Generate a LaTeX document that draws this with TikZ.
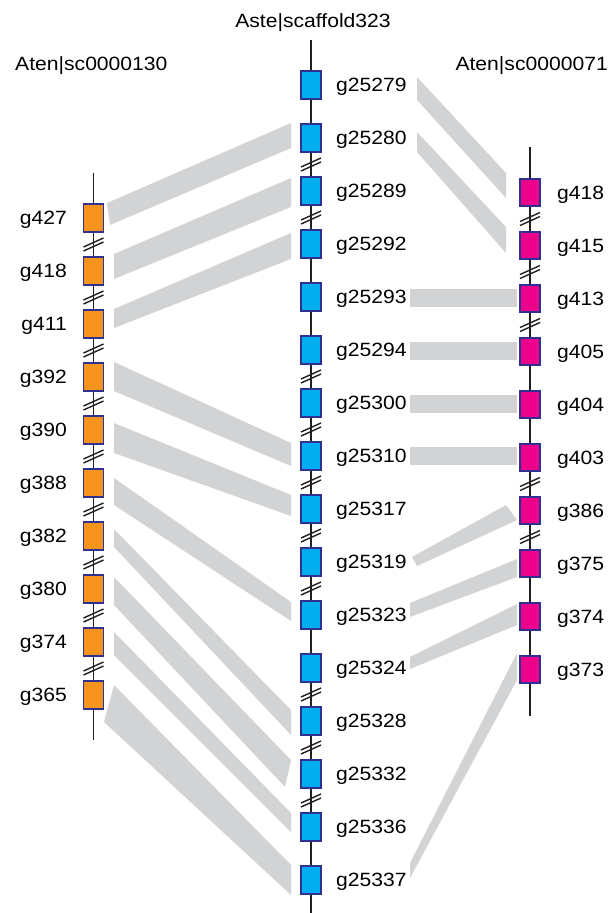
\documentclass[tikz,border=0pt]{standalone}
\usepackage{fontspec}
\setmainfont{Liberation Sans}[FakeStretch=1.1]
\definecolor{orng}{HTML}{F7941D}
\definecolor{cyanb}{HTML}{00AEEF}
\definecolor{mag}{HTML}{EC008C}
\definecolor{bord}{HTML}{2E3192}
\definecolor{bandc}{HTML}{D1D3D4}
\definecolor{axisc}{HTML}{231F20}
\begin{document}
\begin{tikzpicture}[x=1pt,y=-1pt,
  gene/.style={draw=bord, line width=1.8pt, minimum width=20pt, minimum height=27.5pt, inner sep=0pt},
  lab/.style={font=\fontsize{19.2}{20}\selectfont, inner sep=0pt, text=black},
  axisline/.style={draw=axisc, line width=1.7pt},
  brk/.style={draw=axisc, line width=1.4pt},
  bandfill/.style={fill=bandc}]
\useasboundingbox (0,0) rectangle (612,913);

% ---- bands left -> middle
\fill[bandfill] (107,203) -- (291,123) -- (291,148) -- (110,225) -- cycle;
\fill[bandfill] (114,254) -- (291,178) -- (291,207) -- (114,279) -- cycle;
\fill[bandfill] (114,309) -- (291,233) -- (291,259) -- (114,328) -- cycle;
\fill[bandfill] (114,362) -- (291,443) -- (291,466) -- (114,391) -- cycle;
\fill[bandfill] (114,423) -- (291,495) -- (291,516) -- (114,453) -- cycle;
\fill[bandfill] (114,478) -- (291,602) -- (291,621) -- (114,505) -- cycle;
\fill[bandfill] (114,529) -- (291,710) -- (291,735) -- (114,547) -- cycle;
\fill[bandfill] (114,577) -- (291,760) -- (285,787) -- (114,605) -- cycle;
\fill[bandfill] (114,632) -- (291,813) -- (291,832) -- (114,655) -- cycle;
\fill[bandfill] (114,685) -- (291,865) -- (291,895) -- (104,722) -- cycle;

% ---- bands middle -> right
\fill[bandfill] (417,77) -- (506,173) -- (506,198) -- (417,100) -- cycle;
\fill[bandfill] (417,132) -- (506,227) -- (506,253) -- (417,152) -- cycle;
\fill[bandfill] (410,289) rectangle (517,307);
\fill[bandfill] (410,342) rectangle (517,360);
\fill[bandfill] (410,395) rectangle (517,413);
\fill[bandfill] (410,447) rectangle (517,465);
\fill[bandfill] (412,557) -- (506,505) -- (517,520) -- (417,566) -- cycle;
\fill[bandfill] (410,603) -- (517,559) -- (517,577) -- (410,617) -- cycle;
\fill[bandfill] (410,657) -- (517,604) -- (517,625) -- (410,669) -- cycle;
\fill[bandfill] (410,863) -- (517,653) -- (517,680) -- (410,878) -- cycle;

% ---- axes
\coordinate (ltop) at (93.5,173);  \coordinate (lbot) at (93.5,740);
\coordinate (mtop) at (311,40);    \coordinate (mbot) at (311,913);
\coordinate (rtop) at (530,147);   \coordinate (rbot) at (530,716);
\draw[axisline] (ltop) -- (lbot);
\draw[axisline] (mtop) -- (mbot);
\draw[axisline] (rtop) -- (rbot);

% ---- break marks
\foreach \cx/\cy in {93.5/244.5,93.5/297.5,93.5/350.5,93.5/403.5,93.5/456.5,93.5/509.5,93.5/562.5,93.5/615.5,93.5/668.5,
  311/164.5,311/217.5,311/376.5,311/429.5,311/482.5,311/535.5,311/588.5,311/694.5,311/747.5,311/800.5,
  530/219,530/272,530/325,530/484,530/537}{
  \draw[brk] ({\cx-10},{\cy+2.5}) -- ({\cx+10},{\cy-6.5});
  \draw[brk] ({\cx-10},{\cy+6.5}) -- ({\cx+10},{\cy-2.5});
}

% ---- titles
\node[lab, anchor=base] (tm) at (313,27) {Aste|scaffold323};
\node[lab, anchor=base west] (tl) at (15,70) {Aten|sc0000130};
\node[lab, anchor=base east] (tr) at (608,70) {Aten|sc0000071};

% ---- left genes
\foreach \n [count=\i from 0] in {427,418,411,392,390,388,382,380,374,365}{
  \node[gene, fill=orng] (l\n) at (93.5,{218+53*\i}) {};
  \node[lab, anchor=base east] (ll\n) at (67,{218+53*\i+6.9}) {g\n};
}
% ---- middle genes
\foreach \n [count=\i from 0] in {25279,25280,25289,25292,25293,25294,25300,25310,25317,25319,25323,25324,25328,25332,25336,25337}{
  \node[gene, fill=cyanb] (m\n) at (311,{85+53*\i}) {};
  \node[lab, anchor=base west] (ml\n) at (336,{85+53*\i+6.9}) {g\n};
}
% ---- right genes
\foreach \n [count=\i from 0] in {418,415,413,405,404,403,386,375,374,373}{
  \node[gene, fill=mag] (r\n) at (530,{192.5+53*\i}) {};
  \node[lab, anchor=base west] (rl\n) at (557,{192.5+53*\i+6.9}) {g\n};
}
\end{tikzpicture}
\end{document}
